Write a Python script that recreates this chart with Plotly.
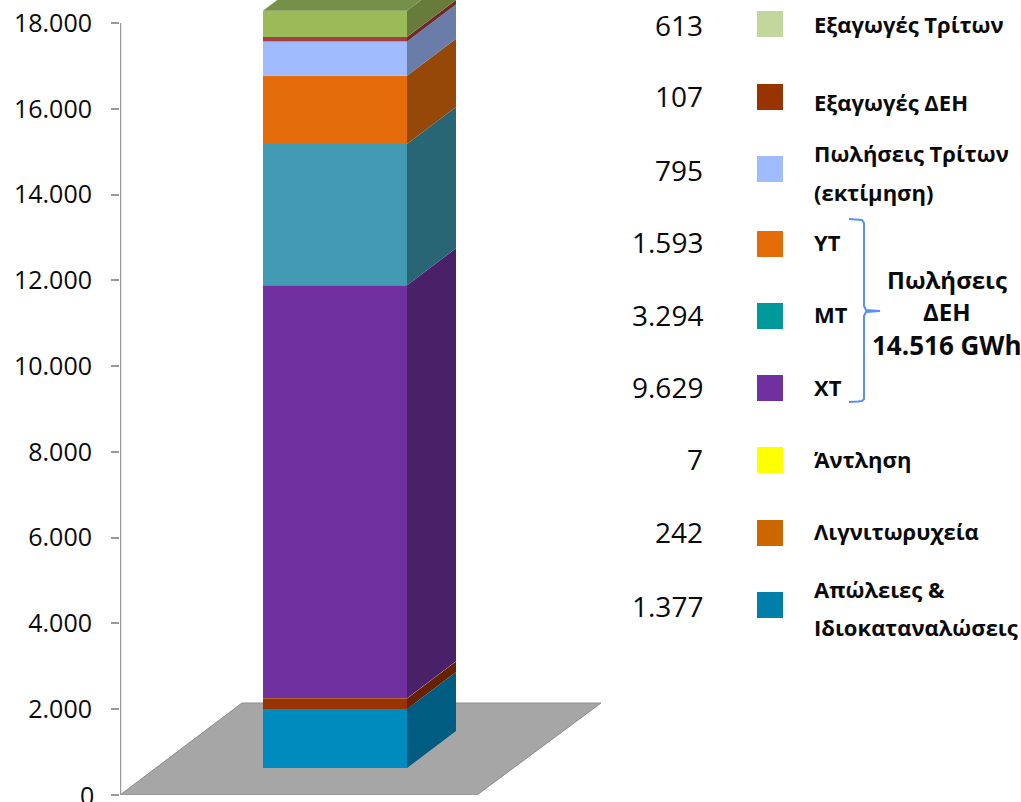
import plotly.graph_objects as go

# Data (bottom to top of the stack)
series_names = ["Απώλειες & Ιδιοκαταναλώσεις", "Λιγνιτωρυχεία", "Άντληση", "ΧΤ", "ΜΤ", "ΥΤ",
                "Πωλήσεις Τρίτων (εκτίμηση)", "Εξαγωγές ΔΕΗ", "Εξαγωγές Τρίτων"]
series_values = [1377, 242, 7, 9629, 3294, 1593, 795, 107, 613]
front_colors = ["#008BBF", "#993300", "#C8781A", "#7030A0", "#429BB2", "#E46C0A", "#A0BCFF", "#A54040", "#9BBB59"]
side_colors = ["#005C80", "#662200", "#806020", "#4A2069", "#286575", "#964808", "#6A7DA8", "#6E2A2A", "#677C3B"]
swatch_colors = ["#007FAB", "#CC6600", "#FFFF00", "#7030A0", "#009999", "#E46C0A", "#A0BCFF", "#993300", "#C3D69B"]
y_ticks = [0, 2000, 4000, 6000, 8000, 10000, 12000, 14000, 16000, 18000]
group_label = ["Πωλήσεις", "ΔΕΗ", "14.516 GWh"]

# Layout helpers
W, H, PLOT_B = 1021, 802, 795
PLOT_L = 120
UNITS_PER_PX = 18000 / 772
def v(py):
    return (PLOT_B - py) * UNITS_PER_PX
def fmt(n):
    return f"{n:,}".replace(",", ".")

BASE = v(768)
BAR_L, BAR_R = 263, 407
DX, DV = 49, 37 * UNITS_PER_PX

swatch_y = [605, 533, 460, 388, 316, 244, 169, 97, 24]
number_y = [606, 532, 459, 387, 315, 242, 170, 96, 25]
label_lines = [
    ("Εξαγωγές Τρίτων", 24), ("Εξαγωγές ΔΕΗ", 102), ("Πωλήσεις Τρίτων", 153), ("(εκτίμηση)", 192),
    ("ΥΤ", 242), ("ΜΤ", 314), ("ΧΤ", 387), ("Άντληση", 459), ("Λιγνιτωρυχεία", 531),
    ("Απώλειες &", 589), ("Ιδιοκαταναλώσεις", 627),
]
group_y = [279, 311, 345]
group_sizes = [24, 24, 26]

fig = go.Figure()

# Front faces and side faces
cum = BASE
for name, val, fc, sc in zip(series_names, series_values, front_colors, side_colors):
    fig.add_trace(go.Bar(x=[(BAR_L + BAR_R) / 2], y=[val], base=[cum], width=[BAR_R - BAR_L],
                         marker=dict(color=fc, line=dict(width=0)), name=name, showlegend=False))
    fig.add_trace(go.Scatter(x=[BAR_R, BAR_R + DX, BAR_R + DX, BAR_R, BAR_R],
                             y=[cum, cum + DV, cum + val + DV, cum + val, cum],
                             mode="lines", fill="toself", fillcolor=sc, line=dict(width=0),
                             showlegend=False, hoverinfo="skip"))
    cum += val

# Top face
fig.add_trace(go.Scatter(x=[BAR_L, BAR_R, BAR_R + DX, BAR_L + DX, BAR_L],
                         y=[cum, cum, cum + DV, cum + DV, cum],
                         mode="lines", fill="toself", fillcolor="#76904A", line=dict(width=0),
                         showlegend=False, hoverinfo="skip"))

# Value axis line
fig.add_trace(go.Scatter(x=[PLOT_L, PLOT_L], y=[0, 18000], mode="lines", cliponaxis=False,
                         line=dict(color="#999999", width=2.5), showlegend=False, hoverinfo="skip"))

# Legend swatches
fig.add_trace(go.Scatter(x=[770] * len(swatch_y), y=[v(p) for p in swatch_y], mode="markers",
                         marker=dict(symbol="square", size=26, color=swatch_colors, line=dict(width=0)),
                         text=series_names, hoverinfo="text", showlegend=False))

# Bracket around the ΔΕΗ sales
fig.add_trace(go.Scatter(
    x=[849, 858, 862, 864, 864, 866, 880, 866, 864, 864, 862, 858, 849],
    y=[v(p) for p in [219, 219.5, 220, 223, 306, 310, 311, 312, 316, 399, 401, 401.5, 402]],
    mode="lines", line=dict(color="#5B8FF0", width=2), showlegend=False, hoverinfo="skip"))

TXT = "#0A0A0A"
ann = []
for val, p in zip(series_values, number_y):
    ann.append(dict(x=705, y=v(p), text=fmt(val), xanchor="right", yanchor="middle", showarrow=False,
                    font=dict(family="Open Sans", size=28, color=TXT)))
for t, p in label_lines:
    ann.append(dict(x=812, y=v(p), text=f"<b>{t}</b>", xanchor="left", yanchor="middle", showarrow=False,
                    font=dict(family="Open Sans", size=22, color=TXT)))
for t, p, s in zip(group_label, group_y, group_sizes):
    ann.append(dict(x=947, y=v(p), text=f"<b>{t}</b>", xanchor="center", yanchor="middle", showarrow=False,
                    font=dict(family="Open Sans", size=s, color=TXT)))
# The zero tick sits on the page's bottom edge, where the axis drops its label
ann.append(dict(x=(96 - PLOT_L) / (W - PLOT_L), xref="paper", y=0, yref="paper", text=fmt(y_ticks[0]),
                xanchor="right", yanchor="middle", showarrow=False,
                font=dict(family="Open Sans", size=25, color=TXT)))

floor = dict(type="path", layer="below", xref="x", yref="y",
             path=f"M {PLOT_L} {v(795)} L 477 {v(795)} L 601 {v(703)} L 242 {v(703)} Z",
             fillcolor="#A6A6A6", line=dict(color="#8C8C8C", width=1))

fig.update_layout(
    width=W, height=H, margin=dict(l=PLOT_L, r=0, t=0, b=H - PLOT_B),
    paper_bgcolor="white", plot_bgcolor="white", barmode="overlay", showlegend=False,
    xaxis=dict(range=[PLOT_L, W], visible=False, fixedrange=True),
    yaxis=dict(range=[0, v(0)], tickmode="array", tickvals=y_ticks,
               ticktext=[""] + [fmt(t) for t in y_ticks[1:]],
               showgrid=False, zeroline=False, showline=False, ticks="outside", ticklen=8, tickwidth=2,
               tickcolor="#999999", tickfont=dict(family="Open Sans", size=25, color=TXT),
               ticklabelstandoff=14, fixedrange=True),
    shapes=[floor], annotations=ann,
)
fig.write_html("out.html", config=dict(displayModeBar=False),
               post_script="document.body.style.margin='0';document.body.style.overflow='hidden';")
